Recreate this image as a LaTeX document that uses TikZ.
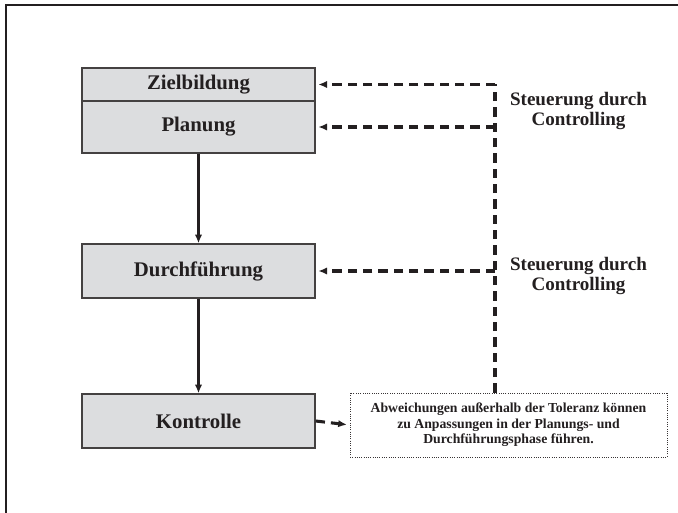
\documentclass[tikz,border=0pt]{standalone}
\usepackage{fontspec}
\setmainfont{Liberation Serif}
\usetikzlibrary{arrows.meta}
\definecolor{boxfill}{RGB}{220,221,223}
\definecolor{ink}{RGB}{35,31,32}
\begin{document}
\begin{tikzpicture}[x=0.75pt,y=-0.75pt,
  stage/.style={draw=ink!85,line width=1pt,fill=boxfill,minimum width=174.75pt,inner sep=0pt,
     font=\fontsize{15.6}{18}\selectfont\bfseries,text=ink},
  flow/.style={draw=ink,line width=1.8pt,-{Latex[length=6.5pt,width=5.5pt]}},
  dl/.style={draw=ink,line width=2.3pt,dash pattern=on 7pt off 4.5pt},
  dla/.style={dl,-{Latex[length=6.5pt,width=5.5pt]},shorten >=2pt},
  lbl/.style={align=center,font=\fontsize{14.3}{14.5}\selectfont\bfseries,text=ink},
  notebox/.style={draw=ink!90,densely dotted,line width=0.7pt,fill=white,minimum width=237.75pt,minimum height=48pt,
     align=center,inner sep=0pt,font=\fontsize{10.3}{11.6}\selectfont\bfseries,text=ink}]
\useasboundingbox (0,0) rectangle (678,513);
\draw[ink,line width=1.1pt] (6,513) -- (6,5) -- (678,5);
\node[stage,minimum height=24.75pt] (zb) at (198.5,84.5) {Zielbildung};
\node[stage,minimum height=39pt] (pl) at (198.5,127) {Planung};
\node[stage,minimum height=40.5pt] (du) at (198.5,271) {Durchführung};
\node[stage,minimum height=40.5pt] (ko) at (198.5,421) {Kontrolle};
\node[notebox] (note) at (508.5,425) {Abweichungen außerhalb der Toleranz können\\zu Anpassungen in der Planungs- und\\Durchführungsphase führen.};
\node[lbl] (s1) at (578.5,111) {Steuerung durch\\Controlling};
\node[lbl] (s2) at (578.5,276) {Steuerung durch\\Controlling};
\coordinate (vx) at (495,84.5);
\draw[flow] (pl.south) -- (du.north);
\draw[flow] (du.south) -- (ko.north);
\draw[dl] (note.north -| vx) -- (vx);
\draw[dla] (vx) -- (zb.east);
\draw[dla] (pl.east -| vx) -- (pl.east);
\draw[dla] (du.east -| vx) -- (du.east);
\draw[dla] (ko.east) -- (note.west);
\end{tikzpicture}
\end{document}
